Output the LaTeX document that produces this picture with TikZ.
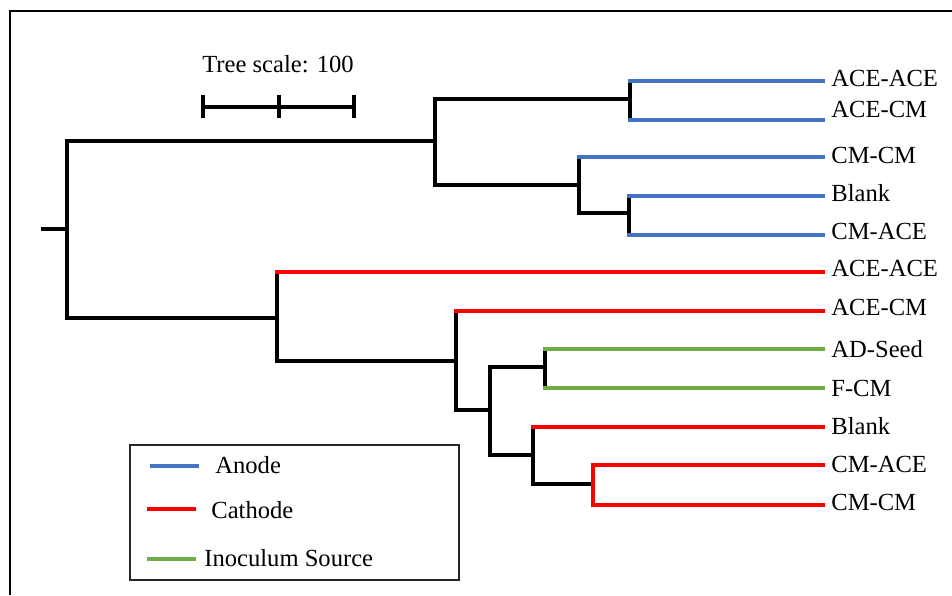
\documentclass[tikz,border=0pt]{standalone}
\usepackage{fontspec}
\setmainfont{Liberation Serif}
\usepackage{tikz}
\definecolor{anode}{HTML}{4472C4}
\definecolor{cathode}{HTML}{FF0000}
\definecolor{inoc}{HTML}{70AD47}
\tikzset{
  tree/.style={line width=2.3pt,line cap=rect},
  leaf/.style={anchor=base west,inner sep=0pt,font=\fontsize{14}{16}\selectfont},
  legbox/.style={draw=black!85,line width=.8pt},
  frame/.style={draw=black,line width=1.2pt}
}
% elbow from a parent split to a child: [vertical colour]{parent}{child}{horizontal colour}
\newcommand{\branch}[4][black]{%
  \draw[tree,#1] (#2) -- (#2 |- #3);
  \draw[tree,#4] (#2 |- #3) -- (#3);
}

\begin{document}
\begin{tikzpicture}[x=0.02cm,y=-0.02cm]
  \useasboundingbox (0,0) rectangle (952,595);
  \draw[frame] (10,595) -- (10,11) -- (952,11);

  % tips and their names
  \foreach \n/\y/\b/\t in {1/81/86/ACE-ACE,2/120/117/ACE-CM,3/157/163/CM-CM,4/196/201/Blank,
      5/235/239/CM-ACE,6/272/276/ACE-ACE,7/311/315/ACE-CM,8/349/357/AD-Seed,9/388/396/F-CM,
      10/427/434/Blank,11/465/472/CM-ACE,12/505/510/CM-CM} {
    \coordinate (l\n) at (823,\y);
    \node[leaf] (t\n) at (831,\b) {\t};
  }

  % inner splits
  \coordinate (stub) at (43,229);
  \coordinate (root) at (67,229);
  \coordinate (up) at (435,141);
  \coordinate (a1) at (630,99);
  \coordinate (a2) at (579,185);
  \coordinate (a3) at (629,213);
  \coordinate (lo) at (277,318);
  \coordinate (c1) at (456,361);
  \coordinate (c2) at (490,410);
  \coordinate (g1) at (545,367);
  \coordinate (c3) at (533,455);
  \coordinate (c4) at (593,484);

  \draw[tree] (stub) -- (root);
  \branch{root}{up}{black}
  \branch{root}{lo}{black}
  \branch{up}{a1}{black}
  \branch{up}{a2}{black}
  \branch{a1}{l1}{anode}
  \branch{a1}{l2}{anode}
  \branch{a2}{l3}{anode}
  \branch{a2}{a3}{black}
  \branch{a3}{l4}{anode}
  \branch{a3}{l5}{anode}
  \branch{lo}{l6}{cathode}
  \branch{lo}{c1}{black}
  \branch{c1}{l7}{cathode}
  \branch{c1}{c2}{black}
  \branch{c2}{g1}{black}
  \branch{c2}{c3}{black}
  \branch{g1}{l8}{inoc}
  \branch{g1}{l9}{inoc}
  \branch{c3}{l10}{cathode}
  \branch{c3}{c4}{black}
  \branch[cathode]{c4}{l11}{cathode}
  \branch[cathode]{c4}{l12}{cathode}

  % scale bar
  \node[anchor=base,inner sep=0pt,font=\fontsize{14}{16}\selectfont] (scl) at (278,72) {Tree scale: 100};
  \coordinate (sb0) at (203,107);
  \coordinate (sb2) at (354,107);
  \draw[tree] (sb0) -- (sb2);
  \foreach \tx in {203,279,354} {\draw[tree] (\tx,97) -- (\tx,116);}

  % legend
  \draw[legbox] (130,445) rectangle (459,580);
  \node[leaf] (lgA) at (215,473) {Anode};
  \node[leaf] (lgC) at (211,518) {Cathode};
  \node[leaf] (lgI) at (204,566) {Inoculum Source};
  \draw[tree,anode,line cap=butt] (150,466) -- (199,466);
  \draw[tree,cathode,line cap=butt] (147,509) -- (196,509);
  \draw[tree,inoc,line cap=butt] (147,559) -- (196,559);
\end{tikzpicture}
\end{document}
